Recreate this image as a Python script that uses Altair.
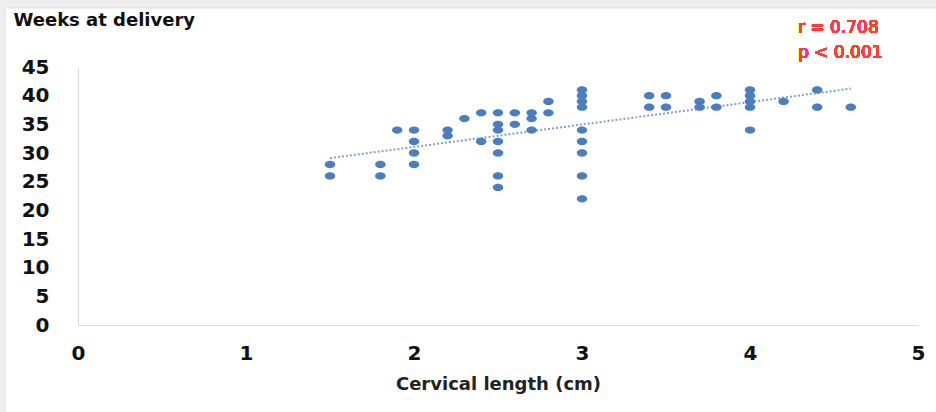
import altair as alt
import pandas as pd

# Cervical length (cm) and weeks at delivery, one entry per dot
cervical_cm = [
    1.5, 1.5,
    1.8, 1.8,
    1.9,
    2.0, 2.0, 2.0, 2.0,
    2.2, 2.2,
    2.3,
    2.4, 2.4,
    2.5, 2.5, 2.5, 2.5, 2.5, 2.5, 2.5,
    2.6, 2.6,
    2.7, 2.7, 2.7,
    2.8, 2.8,
    3.0, 3.0, 3.0, 3.0, 3.0, 3.0, 3.0, 3.0, 3.0,
    3.4, 3.4,
    3.5, 3.5,
    3.7, 3.7,
    3.8, 3.8,
    4.0, 4.0, 4.0, 4.0, 4.0,
    4.2,
    4.4, 4.4,
    4.6,
]
weeks_at_delivery = [
    28, 26,
    28, 26,
    34,
    34, 32, 30, 28,
    34, 33,
    36,
    37, 32,
    37, 35, 34, 32, 30, 26, 24,
    37, 35,
    37, 36, 34,
    39, 37,
    41, 40, 39, 38, 34, 32, 30, 26, 22,
    40, 38,
    40, 38,
    39, 38,
    40, 38,
    41, 40, 39, 38, 34,
    39,
    41, 38,
    38,
]
x_ticks = [0, 1, 2, 3, 4, 5]
y_ticks = [0, 5, 10, 15, 20, 25, 30, 35, 40, 45]
stat_labels = ["r = 0.708", "p < 0.001"]

df = pd.DataFrame({"cervical": cervical_cm, "weeks": weeks_at_delivery})

FONT = "DejaVu Sans"
BLUE = "#4a7ebf"
AXIS_GRAY = "#d9d9d9"

x_enc = alt.X(
    "cervical:Q",
    scale=alt.Scale(domain=[0, 5], nice=False),
    axis=alt.Axis(
        values=x_ticks, format="d", title="Cervical length (cm)",
        grid=False, ticks=False, tickSize=0, domainColor=AXIS_GRAY,
        labelFont=FONT, labelFontSize=20, labelFontWeight="bold", labelColor="#111111",
        labelPadding=18, labelFlush=False, labelOverlap=False,
        titleFont=FONT, titleFontSize=18, titleFontWeight="bold", titleColor="#222222",
        titleY=59, titleBaseline="middle", zindex=1,
    ),
)
y_enc = alt.Y(
    "weeks:Q",
    scale=alt.Scale(domain=[0, 45], nice=False),
    axis=alt.Axis(
        values=y_ticks, tickCount=10, title="Weeks at delivery",
        grid=False, ticks=False, tickSize=0, domainColor=AXIS_GRAY,
        labelFont=FONT, labelFontSize=20, labelFontWeight="bold", labelColor="#111111",
        labelPadding=29, labelOverlap=False, labelFlush=False, labelBound=False,
        titleFont=FONT, titleFontSize=18, titleFontWeight="bold", titleColor="#111111",
        titleAngle=0, titleAlign="left", titleBaseline="middle",
        titleX=-65, titleY=-47, zindex=1,
    ),
)

ellipse = "M -1 0 A 1 0.7 0 1 0 1 0 A 1 0.7 0 1 0 -1 0 Z"

# white card behind the chart (outer strip stays light gray)
card = alt.Chart(df).mark_rect(color="white", stroke="#e4e4e4", strokeWidth=1).encode(
    x=alt.value(-73), x2=alt.value(870), y=alt.value(-59), y2=alt.value(360)
)

points = alt.Chart(df).mark_point(
    shape=ellipse, filled=True, opacity=1, color=BLUE, size=110
).encode(x=x_enc, y=y_enc)

trend = alt.Chart(df).transform_regression(
    "cervical", "weeks", extent=[1.5, 4.6]
).mark_line(color="#7f9fd6", strokeWidth=2, strokeDash=[2, 2]).encode(
    x=x_enc, y=y_enc
)

stat1 = alt.Chart(df).mark_text(
    align="left", baseline="middle", font=FONT, fontSize=17, color="#ff3b3b"
).encode(x=alt.value(720), y=alt.value(-39), text=alt.value(stat_labels[0]))
stat2 = alt.Chart(df).mark_text(
    align="left", baseline="middle", font=FONT, fontSize=17, color="#ff3b3b"
).encode(x=alt.value(720), y=alt.value(-14), text=alt.value(stat_labels[1]))

chart = alt.layer(card, trend, points, stat1, stat2).properties(
    width=840,
    height=258,
    autosize=alt.AutoSizeParams(type="none"),
    padding={"left": 78, "top": 67, "right": 18, "bottom": 87},
    background="#efefef",
).configure_view(stroke=None).configure_axis(labelOverlap=False)

chart.save("out.html", embed_options={"renderer": "svg", "actions": False})
